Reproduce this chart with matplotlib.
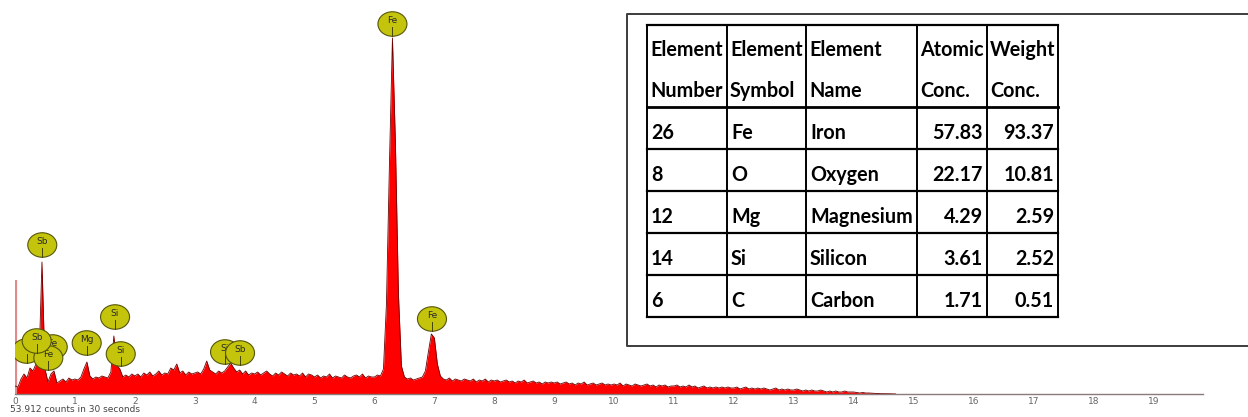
"""EDS spectrum with element concentration table."""

import matplotlib
matplotlib.use('Agg')
import matplotlib.pyplot as plt
from matplotlib.patches import Ellipse
import numpy as np

# spectrum counts, one channel every 0.05 keV starting at 0 keV
counts = [
    80, 70, 150, 200, 160, 260, 230, 300, 300, 1320, 250, 120, 200, 230, 110, 130, 150, 120, 160, 140,
    150, 140, 170, 250, 320, 180, 150, 170, 160, 180, 170, 160, 220, 580, 290, 250, 170, 190, 170, 200,
    180, 200, 170, 210, 190, 220, 180, 200, 230, 190, 210, 200, 260, 240, 300, 210, 230, 190, 220, 200,
    210, 220, 200, 250, 330, 240, 220, 200, 230, 210, 230, 270, 310, 260, 220, 240, 200, 230, 190, 210,
    200, 220, 190, 210, 230, 200, 180, 210, 190, 220, 200, 180, 210, 190, 200, 180, 210, 170, 200, 190,
    170, 190, 160, 180, 170, 200, 160, 180, 170, 160, 190, 170, 160, 180, 190, 170, 200, 160, 180, 170,
    170, 190, 180, 250, 900, 2300, 3560, 2500, 1000, 280, 170, 150, 160, 140, 150, 160, 170, 230, 420, 600,
    560, 300, 180, 150, 140, 160, 130, 150, 140, 130, 150, 140, 130, 150, 120, 140, 130, 150, 120, 140,
    130, 140, 120, 130, 140, 120, 130, 110, 130, 120, 140, 110, 120, 130, 110, 120, 100, 120, 110, 120,
    110, 120, 100, 110, 120, 100, 110, 90, 110, 100, 120, 90, 100, 110, 90, 100, 110, 90, 100, 90,
    100, 90, 110, 80, 100, 90, 80, 100, 90, 80, 90, 100, 80, 90, 70, 90, 80, 90, 70, 80,
    80, 90, 70, 80, 70, 90, 70, 80, 60, 70, 80, 60, 70, 60, 70, 60, 70, 60, 70, 60,
    60, 70, 50, 60, 70, 50, 60, 50, 60, 50, 60, 50, 40, 50, 60, 40, 50, 40, 50, 40,
    40, 50, 40, 30, 40, 30, 40, 30, 30, 40, 30, 20, 30, 20, 30, 20, 20, 30, 20, 20,
    20, 15, 10, 15, 10, 10, 8, 5, 5, 3, 3, 2, 2, 1, 0,
]
channel_kev = 0.05
kev = np.arange(len(counts)) * channel_kev

# noise peak at zero energy
zero_peak_kev = [0.01]
zero_peak_counts = [1140]

# peak labels (drawn in this order)
label_names = ['Fe', 'Fe', 'Sb', 'Si', 'Mg', 'Si', 'O', 'Fe', 'Fe', 'Sb', 'Si', 'Sb']
label_kev = [6.30, 6.96, 0.455, 1.67, 1.197, 1.765, 0.195, 0.63, 0.556, 0.362, 3.506, 3.756]
label_counts = [3700, 750, 1490, 770, 510, 400, 430, 470, 360, 530, 420, 410]

x_ticks = list(range(20))
counts_note = '53.912 counts in 30 seconds'

# concentration table
header_top = ['Element', 'Element', 'Element', 'Atomic', 'Weight']
header_bottom = ['Number', 'Symbol', 'Name', 'Conc.', 'Conc.']
element_number = [26, 8, 12, 14, 6]
element_symbol = ['Fe', 'O', 'Mg', 'Si', 'C']
element_name = ['Iron', 'Oxygen', 'Magnesium', 'Silicon', 'Carbon']
atomic_conc = [57.83, 22.17, 4.29, 3.61, 1.71]
weight_conc = [93.37, 10.81, 2.59, 2.52, 0.51]

W, H = 1248, 417
fig = plt.figure(figsize=(W / 100, H / 100), dpi=100)

# spectrum
ax = fig.add_axes([15 / W, (H - 394) / H, (1203 - 15) / W, 394 / H])
ax.set_xlim(0, 19.83)
ax.set_ylim(0, 3940)
ax.fill_between(kev, counts, color='#ff0000', lw=0, zorder=2)
ax.plot(kev, counts, color='#6a0000', lw=0.6, zorder=3)
ax.vlines(zero_peak_kev, 0, zero_peak_counts, color='#e08a8a', lw=1.6, zorder=2)

for side in ['top', 'right', 'left']:
    ax.spines[side].set_visible(False)
ax.spines['bottom'].set_color('#8a7a7a')
ax.spines['bottom'].set_linewidth(1.0)
ax.set_xticks(x_ticks)
ax.set_xticklabels([str(t) for t in x_ticks])
ax.tick_params(axis='x', length=0, labelsize=6.5, labelcolor='#666666', pad=2)
ax.set_yticks([])
ax.patch.set_visible(False)

# circle labels
ew, eh = 29 / 59.9, 245
for i, (name, e, c) in enumerate(zip(label_names, label_kev, label_counts)):
    z = 5 + i * 0.1
    ax.add_patch(Ellipse((e, c), ew, eh, facecolor='#c4c40c', edgecolor='#55550a',
                         lw=0.8, zorder=z))
    ax.plot([e, e], [c - 30, c - eh / 2], color='#444400', lw=0.7, zorder=z + 0.01)
    ax.text(e, c + 35, name, ha='center', va='center', fontsize=6.5,
            color='#2a2a2a', zorder=z + 0.02)

# table overlay in pixel coordinates
tab = fig.add_axes([0, 0, 1, 1])
tab.set_xlim(0, W)
tab.set_ylim(H, 0)
tab.axis('off')

tab.plot([W + 5, 627, 627, W + 5], [14, 14, 346, 346], color='#3c3c3c', lw=1.4)

col_x = [647, 727, 806, 917, 987, 1058]
row_y = [25, 107, 149, 191, 233, 275, 317]
for x in col_x:
    tab.plot([x, x], [row_y[0], row_y[-1]], color='black', lw=1.4)
for j, y in enumerate(row_y):
    tab.plot([col_x[0], col_x[-1]], [y, y], color='black', lw=2.0 if j == 1 else 1.6)

family = ['Lato', 'Liberation Sans', 'DejaVu Sans']

# fit the font size so 'Magnesium' spans about 102 px, as in the original
renderer = fig.canvas.get_renderer()
probe = tab.text(0, 0, 'Magnesium', family=family, weight='bold', fontsize=20)
pw = probe.get_window_extent(renderer).width
probe.remove()
fs = 20 * 102 / pw

font = dict(family=family, weight='bold', fontsize=fs, color='black')

for k in range(5):
    tab.text(col_x[k] + 3, 56, header_top[k], ha='left', va='baseline', **font)
    tab.text(col_x[k] + 3, 97, header_bottom[k], ha='left', va='baseline', **font)

for r in range(5):
    yb = row_y[r + 1] + 32
    tab.text(col_x[0] + 4, yb, str(element_number[r]), ha='left', va='baseline', **font)
    tab.text(col_x[1] + 4, yb, element_symbol[r], ha='left', va='baseline', **font)
    tab.text(col_x[2] + 4, yb, element_name[r], ha='left', va='baseline', **font)
    tab.text(col_x[4] - 4, yb, f'{atomic_conc[r]:.2f}', ha='right', va='baseline', **font)
    tab.text(col_x[5] - 4, yb, f'{weight_conc[r]:.2f}', ha='right', va='baseline', **font)

tab.text(10, 410, counts_note, ha='left', va='center', fontsize=6.5, color='#444444')

fig.savefig('out.png', dpi=100)
plt.close(fig)
